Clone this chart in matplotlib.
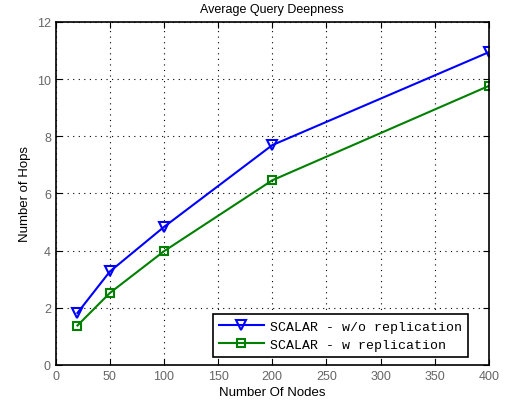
import matplotlib
matplotlib.use('Agg')
import matplotlib.pyplot as plt

nodes = [20, 50, 100, 200, 400]
hops_no_repl = [1.82, 3.27, 4.83, 7.69, 10.94]
hops_repl = [1.38, 2.52, 3.98, 6.46, 9.76]

plt.rcParams['font.family'] = ['Liberation Sans', 'DejaVu Sans']

fig = plt.figure(figsize=(5.07, 4.02), dpi=100)
ax = fig.add_axes([0.110, 0.0896, 0.854, 0.8534])

ax.plot(nodes, hops_no_repl, color='blue', lw=1.5, marker='v', ms=7,
        mfc='none', mew=1.5, label='SCALAR - w/o replication')
ax.plot(nodes, hops_repl, color='green', lw=1.5, marker='s', ms=5.5,
        mfc='none', mew=1.5, label='SCALAR - w replication')

ax.set_xlim(0, 400)
ax.set_ylim(0, 12)
ax.set_xticks(range(0, 401, 50))
ax.set_yticks(range(0, 13, 2))
ax.grid(True, ls=(0, (1, 4)), color='black', lw=0.8)
ax.tick_params(direction='in', labelsize=9, labelcolor='#666666', length=4,
               top=True, right=True)
for s in ax.spines.values():
    s.set_linewidth(1.2)

ax.set_title('Average Query Deepness', fontsize=9, pad=7)
ax.set_xlabel('Number Of Nodes', fontsize=9.5, labelpad=3)
ax.set_ylabel('Number of Hops', fontsize=9.5)

leg = ax.legend(loc='lower right', bbox_to_anchor=(0.951, 0.024),
                prop={'family': 'Liberation Mono', 'size': 9.5},
                fancybox=False, edgecolor='black', framealpha=1,
                borderaxespad=0, handlelength=3.4, handletextpad=0.45,
                borderpad=0.45, labelspacing=0.45)
leg.get_frame().set_linewidth(1.2)

fig.savefig('out.png', dpi=100)
